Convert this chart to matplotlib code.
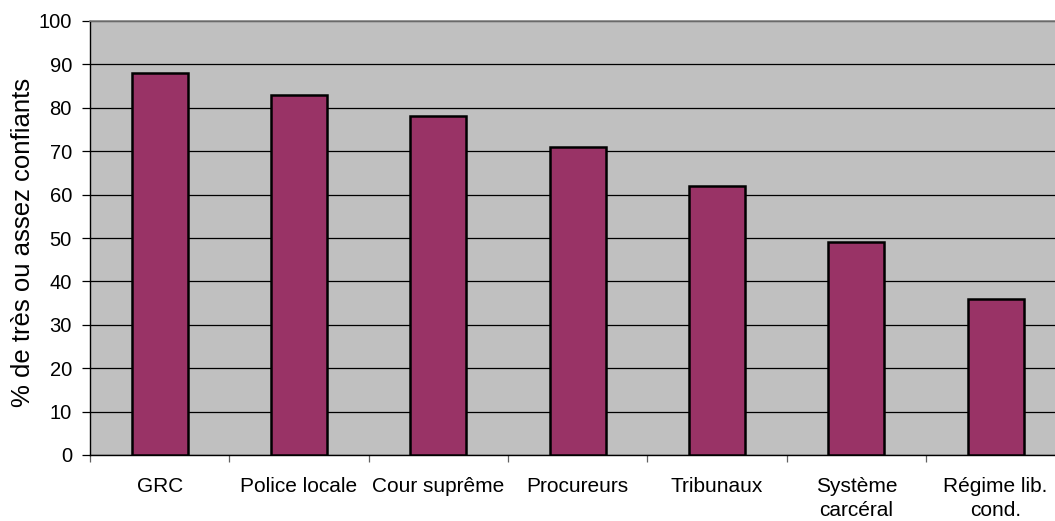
import numpy as np
import matplotlib
matplotlib.use("Agg")
import matplotlib.pyplot as plt
from matplotlib.ticker import FixedLocator

plt.rcParams['font.family'] = ['Liberation Sans', 'DejaVu Sans']

categories = ["GRC", "Police locale", "Cour suprême", "Procureurs",
              "Tribunaux", "Système\ncarcéral", "Régime lib.\ncond."]
values = [88, 83, 78, 71, 62, 49, 36]
y_label = "% de très ou assez confiants"

W, H = 1055, 521
fig = plt.figure(figsize=(W / 100, H / 100), dpi=100)
# plot area runs past the right edge of the picture, like the original
ax = fig.add_axes([90 / W, 1 - 455 / H, (W - 90) / W, (455 - 21) / H])

x = np.arange(len(categories))
ax.bar(x, values, width=0.40, color="#993366", edgecolor="black",
       linewidth=1.8, zorder=3)

ax.set_facecolor("#C0C0C0")
ax.set_ylim(0, 100)
cat_w = 139.33
ax.set_xlim(-0.5, -0.5 + (W - 90) / cat_w)

ax.set_yticks(np.arange(0, 101, 10))
ax.yaxis.grid(True, color="black", linewidth=0.9, zorder=0)
ax.set_axisbelow(True)

ax.set_xticks(x)
ax.set_xticklabels(categories, fontsize=15, linespacing=1.35)
ax.tick_params(axis="x", which="major", length=0, pad=16)
ax.xaxis.set_minor_locator(FixedLocator(np.arange(-0.5, 7, 1)))
ax.tick_params(axis="x", which="minor", length=5, width=0.9, color="#606060",
               direction="out")
ax.tick_params(axis="y", labelsize=14.5, length=6, width=0.9, pad=7,
               direction="out")

for s in ["left", "bottom"]:
    ax.spines[s].set_color("black")
    ax.spines[s].set_linewidth(1.0)
ax.spines["top"].set_color("#808080")
ax.spines["top"].set_linewidth(1.2)
ax.spines["right"].set_visible(False)

fig.text(23 / W, 1 - 242 / H, y_label, rotation=90, ha="center",
         va="center", fontsize=18.5)

fig.savefig("out.png", dpi=100)
